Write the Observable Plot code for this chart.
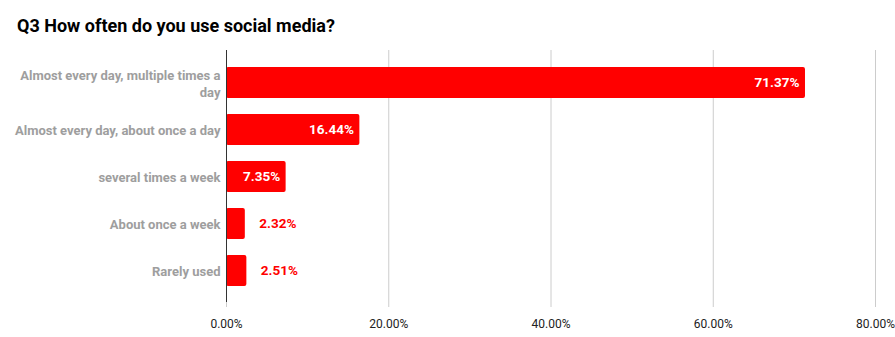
<!DOCTYPE html>
<html>
<head>
<meta charset="utf-8">
<script src="https://cdn.jsdelivr.net/npm/d3@7"></script>
<script src="https://cdn.jsdelivr.net/npm/@observablehq/plot@0.6"></script>
<style>
  body { margin: 0; background: #fff; font-family: Roboto, sans-serif; }
  #title { position: absolute; left: 17px; top: 15px; font: bold 18px Roboto, sans-serif; color: #000; }
  #chart { position: absolute; left: 0; top: 50px; }
</style>
</head>
<body>
<div id="title">Q3 How often do you use social media?</div>
<div id="chart"></div>
<script>
const categories = [
  "Almost every day, multiple times a day",
  "Almost every day, about once a day",
  "several times a week",
  "About once a week",
  "Rarely used"
];
const values = [71.37, 16.44, 7.35, 2.32, 2.51];
const xTicks = [0, 20, 40, 60, 80];
const wrapped = {"Almost every day, multiple times a day": "Almost every day, multiple times a\nday"};

const data = categories.map((c, i) => ({category: c, value: values[i]}));
const inside = data.filter(d => d.value >= 5);
const outside = data.filter(d => d.value < 5);

const chart = Plot.plot({
  width: 895,
  height: 287,
  marginTop: 0,
  marginLeft: 226,
  marginRight: 20,
  marginBottom: 35,
  style: {fontFamily: "Roboto, sans-serif", background: "#fff"},
  x: {domain: [0, 80], label: null},
  y: {domain: categories, padding: 0.35, label: null},
  marks: [
    Plot.gridX(xTicks, {stroke: "#ccc", strokeOpacity: 1}),
    Plot.axisX(xTicks, {tickSize: 5, stroke: "#ccc", strokeOpacity: 1, tickPadding: 12, fontSize: 12, fill: "#222", label: null, tickFormat: d => d.toFixed(2) + "%"}),
    Plot.barX(data, {x: "value", y: "category", fill: "#ff0000", rx: 2}),
    Plot.ruleX([0], {stroke: "#333", strokeWidth: 1}),
    Plot.text(inside, {x: "value", y: "category", text: d => d.value.toFixed(2) + "%", textAnchor: "end", dx: -6, fill: "#fff", fontWeight: "bold", fontSize: 13.5}),
    Plot.text(outside, {x: "value", y: "category", text: d => d.value.toFixed(2) + "%", textAnchor: "start", dx: 14, fill: "#ff0000", fontWeight: "bold", fontSize: 13.5}),
    Plot.axisY({tickSize: 0, tickPadding: 6, fontSize: 13, fontWeight: "bold", fill: "#9e9e9e", label: null, tickFormat: d => wrapped[d] ?? d, lineHeight: 1.3})
  ]
});
document.getElementById("chart").appendChild(chart);
</script>
</body>
</html>
